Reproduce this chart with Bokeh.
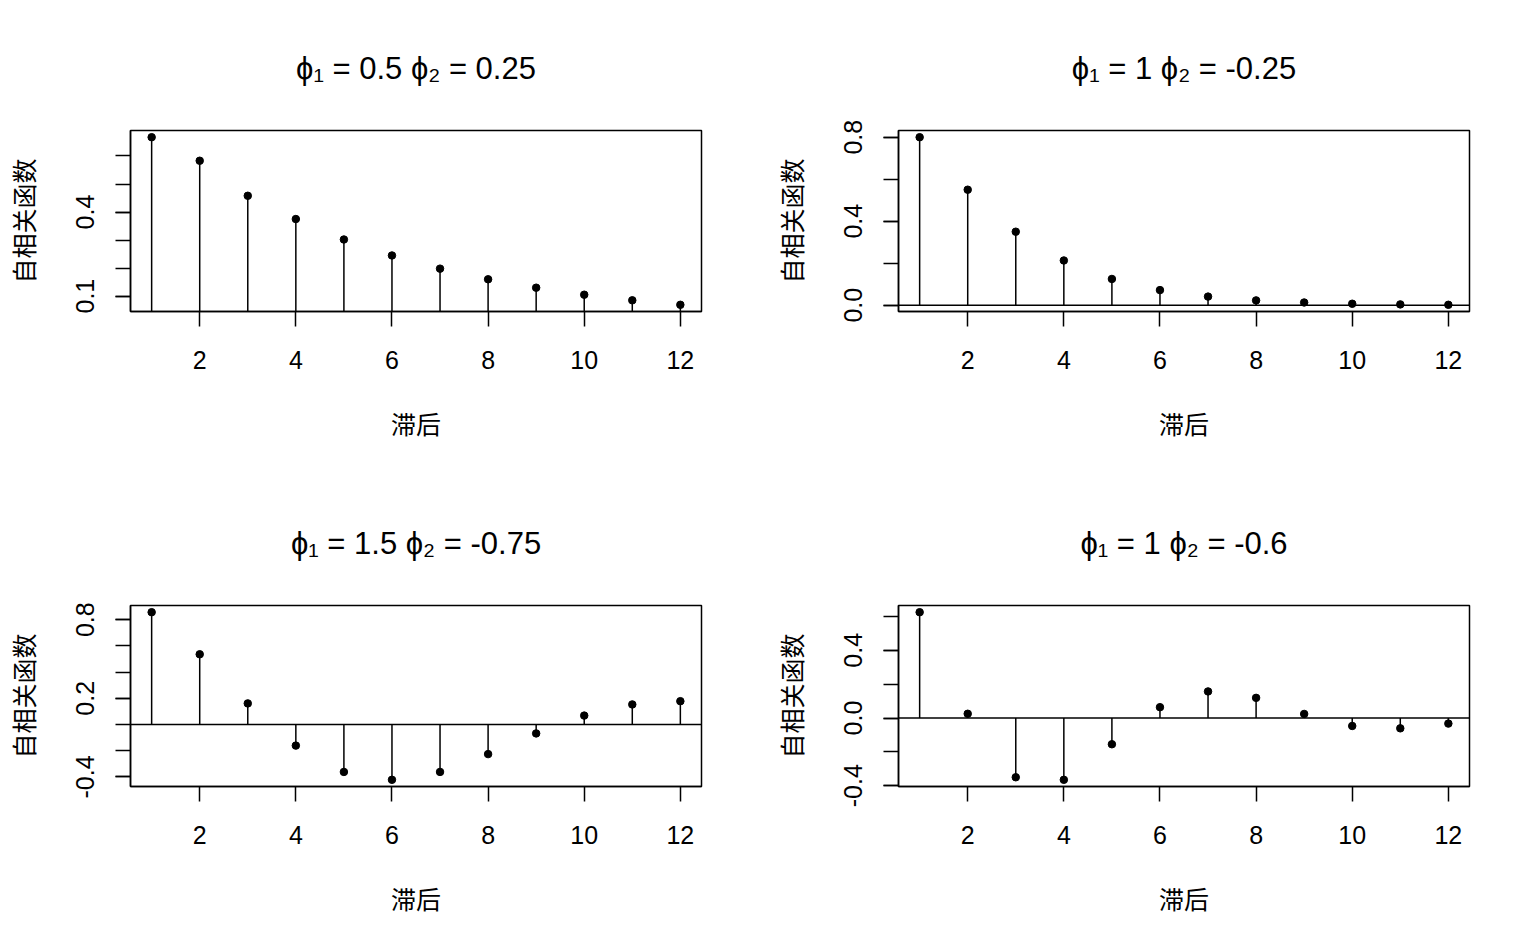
import math
from bokeh.plotting import figure
from bokeh.layouts import gridplot
from bokeh.models import Range1d, FixedTicker, PrintfTickFormatter
from bokeh.embed import file_html
from bokeh.resources import INLINE

# ---- data ----
lags = [1, 2, 3, 4, 5, 6, 7, 8, 9, 10, 11, 12]
acf_a = [0.667, 0.583, 0.458, 0.375, 0.302, 0.245, 0.198, 0.160, 0.130, 0.105, 0.085, 0.069]
acf_b = [0.800, 0.550, 0.350, 0.213, 0.125, 0.072, 0.041, 0.023, 0.013, 0.007, 0.004, 0.002]
acf_c = [0.857, 0.536, 0.161, -0.161, -0.362, -0.422, -0.362, -0.226, -0.068, 0.068, 0.153, 0.178]
acf_d = [0.625, 0.025, -0.350, -0.365, -0.155, 0.064, 0.157, 0.119, 0.024, -0.047, -0.061, -0.033]
phi1_labels = ["0.5", "1", "1.5", "1"]
phi2_labels = ["0.25", "-0.25", "-0.75", "-0.6"]
x_ticks = [2, 4, 6, 8, 10, 12]
y_major = [[0.1, 0.4], [0.0, 0.4, 0.8], [-0.4, 0.2, 0.8], [-0.4, 0.0, 0.4]]
y_minor = [[0.1, 0.2, 0.3, 0.4, 0.5, 0.6],
           [0.0, 0.2, 0.4, 0.6, 0.8],
           [-0.4, -0.2, 0.0, 0.2, 0.4, 0.6, 0.8],
           [-0.4, -0.2, 0.0, 0.2, 0.4, 0.6]]
x_title = "滞后"
y_title = "自相关函数"

series = [acf_a, acf_b, acf_c, acf_d]

LATIN = "Liberation Sans"
CJK = "Noto Sans CJK SC"


def make_panel(i, h):
    vals = series[i]
    lo, hi = min(vals), max(vals)
    pad = 0.04 * (hi - lo)
    ylo, yhi = lo - pad, hi + pad
    xpad = 0.04 * (max(lags) - min(lags))
    xlo, xhi = min(lags) - xpad, max(lags) + xpad

    p = figure(width=768, height=h, output_backend="svg", toolbar_location=None,
               x_range=Range1d(xlo, xhi), y_range=Range1d(ylo, yhi),
               min_border_left=130, min_border_right=67,
               min_border_top=130 if i < 2 else 131, min_border_bottom=163)
    p.xgrid.visible = False
    p.ygrid.visible = False
    p.outline_line_color = "black"
    p.outline_line_width = 1.5
    p.outline_line_alpha = 1.0
    p.background_fill_color = "white"
    p.border_fill_color = "white"

    # title
    p.title.text = f"ϕ₁ = {phi1_labels[i]} ϕ₂ = {phi2_labels[i]}"
    p.title.align = "center"
    p.title.text_font = LATIN
    p.title.text_font_size = "31px"
    p.title.text_font_style = "normal"
    p.title.text_color = "black"
    p.title.standoff = 89

    # zero line (clipped to the frame)
    p.line(x=[xlo, xhi], y=[0, 0], line_color="black", line_width=1.5)
    p.segment(x0=lags, y0=[0] * len(lags), x1=lags, y1=vals,
              line_color="black", line_width=1.5)
    p.scatter(x=lags, y=vals, size=7.5, color="black")

    # x axis
    xa = p.xaxis[0]
    xa.ticker = FixedTicker(ticks=x_ticks)
    xa.minor_tick_line_color = None
    xa.major_tick_out = 15
    xa.major_tick_in = 0
    xa.axis_line_width = 1.5
    xa.major_tick_line_width = 1.5
    xa.major_label_text_font = LATIN
    xa.major_label_text_font_size = "25px"
    xa.major_label_text_color = "black"
    xa.major_label_standoff = 24
    xa.axis_label = x_title
    xa.axis_label_text_font = CJK
    xa.axis_label_text_font_size = "25px"
    xa.axis_label_text_font_style = "normal"
    xa.axis_label_text_color = "black"
    xa.axis_label_standoff = 33

    # y axis
    ya = p.yaxis[0]
    ya.ticker = FixedTicker(ticks=y_major[i], minor_ticks=y_minor[i])
    ya.formatter = PrintfTickFormatter(format="%.1f")
    ya.major_tick_out = 15
    ya.major_tick_in = 0
    ya.minor_tick_out = 15
    ya.minor_tick_in = 0
    ya.axis_line_width = 1.5
    ya.major_tick_line_width = 1.5
    ya.minor_tick_line_width = 1.5
    ya.minor_tick_line_color = "black"
    ya.major_label_orientation = "parallel"
    ya.major_label_text_font = LATIN
    ya.major_label_text_font_size = "25px"
    ya.major_label_text_color = "black"
    ya.major_label_standoff = 21
    ya.axis_label = y_title
    ya.axis_label_text_font = CJK
    ya.axis_label_text_font_size = "25px"
    ya.axis_label_text_font_style = "normal"
    ya.axis_label_text_color = "black"
    ya.axis_label_standoff = 33
    return p


panels = [make_panel(0, 474), make_panel(1, 474), make_panel(2, 475), make_panel(3, 475)]
grid = gridplot([[panels[0], panels[1]], [panels[2], panels[3]]], toolbar_location=None)

open("out.html", "w").write(file_html(grid, INLINE))
